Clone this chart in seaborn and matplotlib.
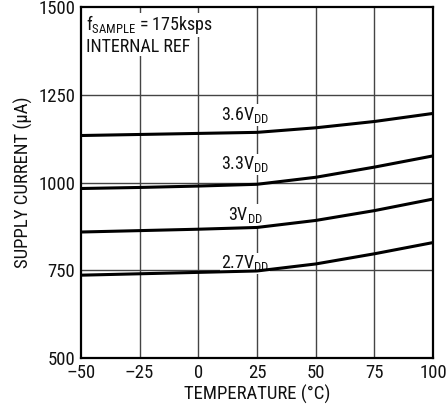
import matplotlib
matplotlib.use("Agg")
import matplotlib.pyplot as plt
import seaborn as sns
import pandas as pd

# supply current vs temperature
temperature = [-50, -25, 0, 25, 50, 75, 100]
current_36 = [1134, 1137, 1140, 1143, 1156, 1174, 1197]
current_33 = [983, 986, 990, 995, 1015, 1044, 1076]
current_30 = [859, 863, 867, 872, 892, 920, 953]
current_27 = [736, 740, 744, 748, 768, 797, 829]
series_names = ["3.6V", "3.3V", "3V", "2.7V"]
label_pos = [(20, 1192), (20, 1052), (20, 908), (20, 770)]
x_ticks = [-50, -25, 0, 25, 50, 75, 100]
x_tick_labels = ["\u201350", "\u201325", "0", "25", "50", "75", "100"]
y_ticks = [500, 750, 1000, 1250, 1500]

sns.set_theme(style="white")
FONT = ["Roboto Condensed", "Archivo Narrow", "DejaVu Sans"]
plt.rcParams["font.family"] = FONT
plt.rcParams["mathtext.fontset"] = "custom"
plt.rcParams["mathtext.rm"] = "Roboto Condensed"
plt.rcParams["mathtext.it"] = "Roboto Condensed"

df = pd.DataFrame({
    "temp": temperature * 4,
    "current": current_36 + current_33 + current_30 + current_27,
    "vdd": sum([[n] * len(temperature) for n in series_names], []),
})

fig = plt.figure(figsize=(4.47, 4.17), dpi=100)
ax = fig.add_axes([0.181, 0.1415, 0.788, 0.8415])

for x in x_ticks[1:-1]:
    ax.axvline(x, color="#444444", lw=1.0, zorder=0)
for y in y_ticks[1:-1]:
    ax.axhline(y, color="#444444", lw=1.0, zorder=0)

sns.lineplot(data=df, x="temp", y="current", hue="vdd", palette=["black"] * 4,
             linewidth=2.2, legend=False, ax=ax, zorder=3)

for name, (lx, ly) in zip(series_names, label_pos):
    ax.text(lx, ly, name + r"$_{\mathrm{DD}}$", ha="center", va="center", fontsize=13,
            color="#111111", zorder=2,
            bbox=dict(facecolor="white", edgecolor="none", pad=0.5))

ax.text(-48, 1482, r"f$_{\mathrm{SAMPLE}}$ = 175ksps", ha="left", va="top", fontsize=13,
        color="#111111", bbox=dict(facecolor="white", edgecolor="none", pad=0.5))
ax.text(-48, 1413, "INTERNAL REF", ha="left", va="top", fontsize=13,
        color="#111111", bbox=dict(facecolor="white", edgecolor="none", pad=0.5))

ax.set_xlim(-50, 100)
ax.set_ylim(500, 1500)
ax.set_xticks(x_ticks)
ax.set_xticklabels(x_tick_labels)
ax.set_yticks(y_ticks)
ax.tick_params(axis="both", labelsize=13.5, length=0, pad=4, colors="#111111")
ax.set_xlabel("TEMPERATURE (\u00b0C)", fontsize=13.5, color="#111111", labelpad=2)
ax.set_ylabel("SUPPLY CURRENT (\u03bcA)", fontsize=13.5, color="#111111", labelpad=4)
for s in ax.spines.values():
    s.set_color("black")
    s.set_linewidth(1.6)

fig.savefig("out.png", dpi=100)
